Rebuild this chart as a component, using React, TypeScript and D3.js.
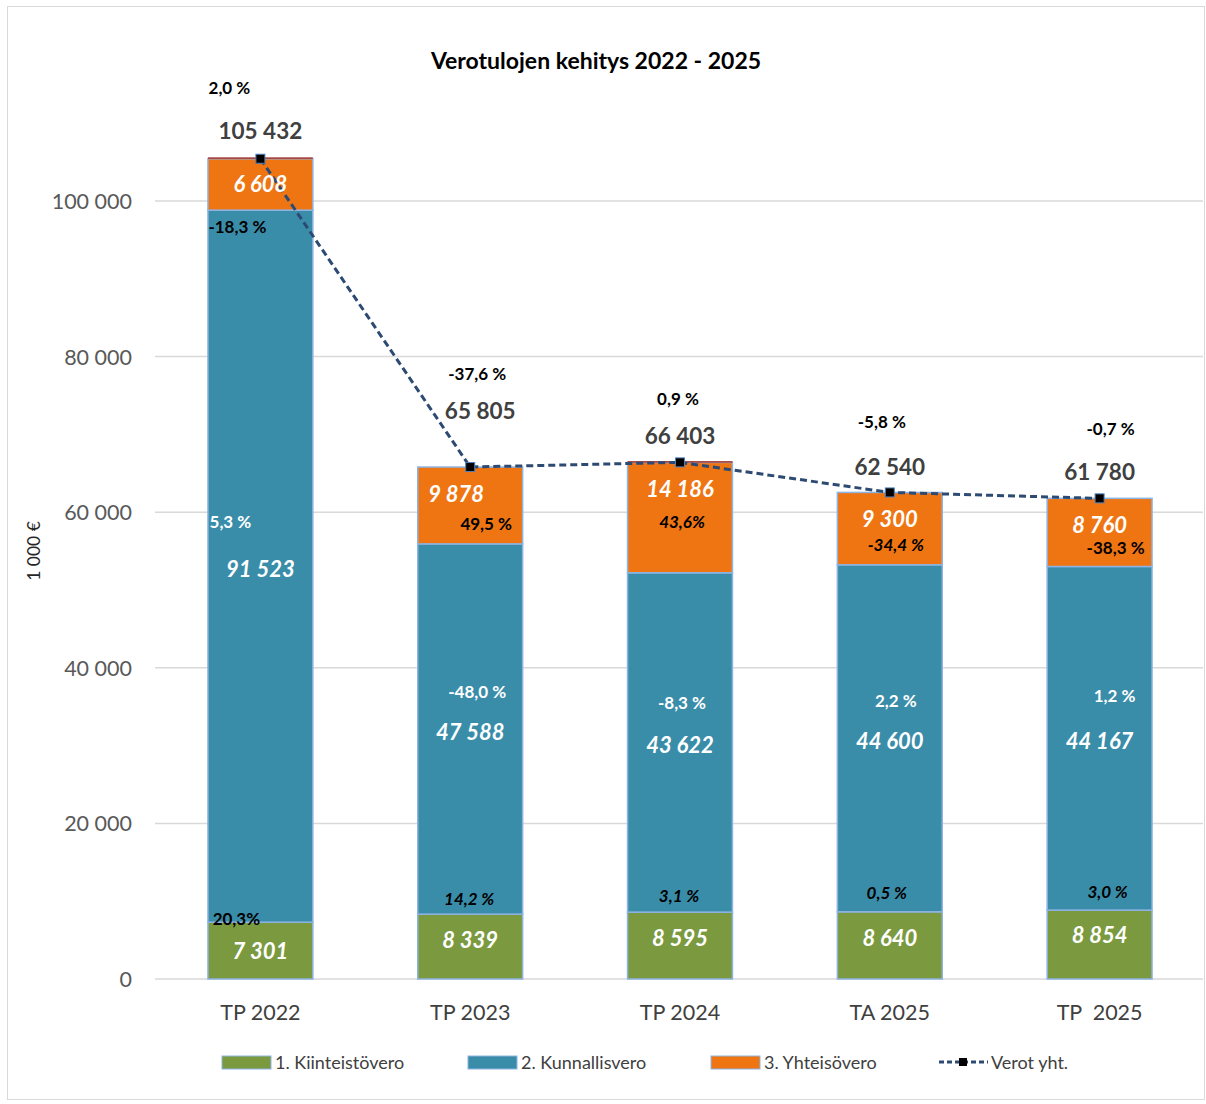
import React from "react";
import * as d3 from "d3";

const categories = ["TP 2022", "TP 2023", "TP 2024", "TA 2025", "TP  2025"];
const kiinteistovero = [7301, 8339, 8595, 8640, 8854];
const kunnallisvero = [91523, 47588, 43622, 44600, 44167];
const yhteisovero = [6608, 9878, 14186, 9300, 8760];
const muut = [180, 0, 160, 0, 0];
const verotYht = [105432, 65805, 66403, 62540, 61780];

const pctTotal = ["2,0 %", "-37,6 %", "0,9 %", "-5,8 %", "-0,7 %"];
const pctKiint = ["20,3%", "14,2 %", "3,1 %", "0,5 %", "3,0 %"];
const pctKunn = ["5,3 %", "-48,0 %", "-8,3 %", "2,2 %", "1,2 %"];
const pctYht = ["-18,3 %", "49,5 %", "43,6%", "-34,4 %", "-38,3 %"];

const yTicks = [0, 20000, 40000, 60000, 80000, 100000];
const seriesNames = ["1. Kiinteistövero", "2. Kunnallisvero", "3. Yhteisövero"];
const lineName = "Verot yht.";

const COLORS = ["#7B9A3F", "#3A8DA9", "#EF7513"];
const FONT = "Lato, 'Open Sans', sans-serif";

// label nudges [dx, dy] in px, per category
const NUDGE = {
  totalPct: [[-31, -71], [7, -94], [-2, -64], [-8, -71], [11, -70]],
  totalVal: [[0, -28], [10, -57], [0, -27], [0, -26], [0, -27]],
  yhtVal: [[0, 25], [-14, 26], [0, 26], [0, 26], [0, 26]],
  yhtPct: [[-23, 68], [16, 56], [2, 59], [6, 52], [16, 49]],
  kunnPct: [[-30, -45], [7, -38], [2, -40], [6, -38], [15, -43]],
  kunnVal: [[0, 2], [0, 2], [0, 2], [0, 2], [0, 2]],
  kiintPct: [[-24, -4], [-1, -16], [-1, -17], [-3, -19], [8, -19]],
  kiintVal: [[0, 0], [0, -7], [0, -8], [0, -8], [0, -10]],
};
const ITALIC_YHT = [false, false, true, true, false];
const ITALIC_KIINT = [false, true, true, true, true];

const fmt = (v: number) => d3.format(",")(v).replace(/,/g, " ");

export default function App() {
  const W = 1206, H = 1104;
  const x = d3.scaleBand<string>().domain(categories).range([155.5, 1204.5]).paddingInner(0.5).paddingOuter(0.25);
  const y = d3.scaleLinear().domain([0, 100000]).range([979, 201]);
  const bw = x.bandwidth();

  const rows = categories.map((c, i) => ({ c, k: kiinteistovero[i], u: kunnallisvero[i], y: yhteisovero[i], m: muut[i] }));
  const stack = d3.stack<any>().keys(["k", "u", "y", "m"])(rows);
  const cx = (i: number) => (x(categories[i]) as number) + bw / 2;

  const line = d3.line<number>().x((_, i) => cx(i)).y((d) => y(d));

  const txt = (
    key: string, i: number, px: number, py: number, s: string,
    o: { size: number; fill: string; weight?: any; italic?: boolean; anchor?: string }
  ) => (
    <text key={key + i} x={px} y={py} fontSize={o.size} fill={o.fill} fontWeight={o.weight ?? "bold"}
      fontStyle={o.italic ? "italic" : "normal"} textAnchor={o.anchor ?? "middle"} dominantBaseline="central" fontFamily={FONT}>
      {s}
    </text>
  );

  return (
    <svg width={W} height={H} style={{ position: "absolute", left: 0, top: 0, background: "#fff" }}>
      <rect x={7.5} y={6.5} width={1197} height={1093} fill="#fff" stroke="#d9d9d9" />
      <text x={596} y={60} textAnchor="middle" dominantBaseline="central" fontFamily={FONT} fontWeight="bold" fontSize={23} fill="#000">
        Verotulojen kehitys 2022 - 2025
      </text>
      {yTicks.map((t) => (
        <g key={t}>
          <line x1={155} x2={1203} y1={y(t)} y2={y(t)} stroke="#d9d9d9" strokeWidth={1.5} />
          <text x={132} y={y(t)} textAnchor="end" dominantBaseline="central" fontFamily={FONT} fontSize={21.5} fill="#595959">
            {fmt(t)}
          </text>
        </g>
      ))}
      <text transform="translate(33,551) rotate(-90)" textAnchor="middle" dominantBaseline="central" fontFamily={FONT} fontSize={17.5} fill="#262626">
        1 000 €
      </text>
      {categories.map((c, i) => (
        <text key={c} x={cx(i)} y={1012} textAnchor="middle" dominantBaseline="central" fontFamily={FONT} fontSize={21.5} fill="#404040" style={{ whiteSpace: "pre" }}>
          {c}
        </text>
      ))}
      {stack.map((s, si) => (
        <g key={si}>
          {s.map((d, i) =>
            si < 3 ? (
              <rect key={i} x={x(categories[i])} y={y(d[1])} width={bw} height={y(d[0]) - y(d[1])} fill={COLORS[si]} stroke="#8DB3E2" strokeWidth={1.5} />
            ) : d[1] > d[0] ? (
              <rect key={i} x={x(categories[i])} y={y(d[1])} width={bw} height={Math.max(1.5, y(d[0]) - y(d[1]))} fill="#A5352F" />
            ) : null
          )}
        </g>
      ))}
      <path d={line(verotYht) || ""} fill="none" stroke="#2C4A72" strokeWidth={3} strokeDasharray="7,4" />
      {verotYht.map((v, i) => (
        <rect key={i} x={cx(i) - 4.5} y={y(v) - 4.5} width={9} height={9} fill="#000" stroke="#4F81BD" strokeWidth={1} />
      ))}
      {categories.map((c, i) => {
        const top = y(verotYht[i]);
        const yhtTop = y(stack[2][i][1]);
        const kunnMid = (y(stack[1][i][0]) + y(stack[1][i][1])) / 2;
        const kiintTop = y(stack[0][i][1]);
        const kiintMid = (y(0) + kiintTop) / 2;
        const N = NUDGE;
        return (
          <g key={c}>
            {txt("tp", i, cx(i) + N.totalPct[i][0], top + N.totalPct[i][1], pctTotal[i], { size: 17, fill: "#000" })}
            {txt("tv", i, cx(i) + N.totalVal[i][0], top + N.totalVal[i][1], fmt(verotYht[i]), { size: 22.5, fill: "#404040" })}
            {txt("yv", i, cx(i) + N.yhtVal[i][0], yhtTop + N.yhtVal[i][1], fmt(yhteisovero[i]), { size: 22, fill: "#fff", italic: true })}
            {txt("yp", i, cx(i) + N.yhtPct[i][0], yhtTop + N.yhtPct[i][1], pctYht[i], { size: 17, fill: "#000", italic: ITALIC_YHT[i] })}
            {txt("up", i, cx(i) + N.kunnPct[i][0], kunnMid + N.kunnPct[i][1], pctKunn[i], { size: 17, fill: "#fff" })}
            {txt("uv", i, cx(i) + N.kunnVal[i][0], kunnMid + N.kunnVal[i][1], fmt(kunnallisvero[i]), { size: 22, fill: "#fff", italic: true })}
            {txt("kp", i, cx(i) + N.kiintPct[i][0], kiintTop + N.kiintPct[i][1], pctKiint[i], { size: 17, fill: "#000", italic: ITALIC_KIINT[i] })}
            {txt("kv", i, cx(i) + N.kiintVal[i][0], kiintMid + N.kiintVal[i][1], fmt(kiinteistovero[i]), { size: 22, fill: "#fff", italic: true })}
          </g>
        );
      })}
      {/* legend */}
      {seriesNames.map((n, i) => {
        const lx = [222, 468, 711][i];
        return (
          <g key={n}>
            <rect x={lx} y={1056} width={49} height={13} fill={COLORS[i]} stroke="#8DB3E2" strokeWidth={1} />
            <text x={lx + 53} y={1062} dominantBaseline="central" fontFamily={FONT} fontSize={18} fill="#404040">{n}</text>
          </g>
        );
      })}
      <line x1={939} x2={988} y1={1062} y2={1062} stroke="#2C4A72" strokeWidth={3} strokeDasharray="5,3" />
      <rect x={959} y={1058} width={8} height={8} fill="#000" />
      <text x={991} y={1062} dominantBaseline="central" fontFamily={FONT} fontSize={18} fill="#404040">{lineName}</text>
    </svg>
  );
}
